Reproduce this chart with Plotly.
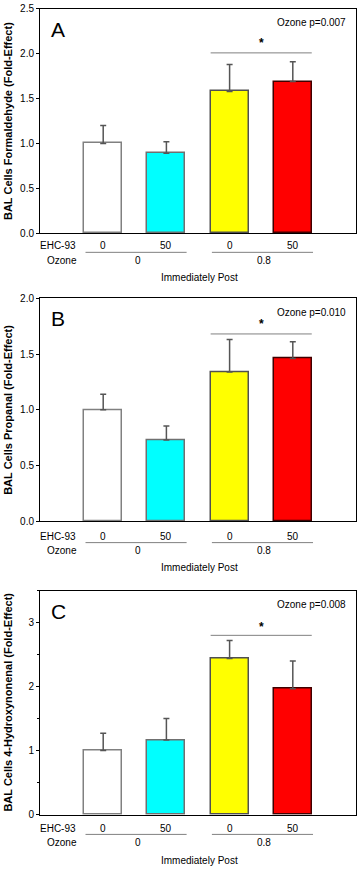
import plotly.graph_objects as go

W, H = 357, 871

# ---- data ----
ehc93_labels = ["0", "50", "0", "50"]
ozone_labels = ["0", "0.8"]
bar_colors = ["#ffffff", "#00ffff", "#ffff00", "#ff0000"]

formaldehyde_mean = [1.00, 0.89, 1.58, 1.69]
formaldehyde_err = [0.20, 0.13, 0.30, 0.22]
propanal_mean = [1.00, 0.73, 1.34, 1.46]
propanal_err = [0.14, 0.125, 0.29, 0.15]
hne_mean = [1.00, 1.165, 2.44, 1.965]
hne_err = [0.27, 0.335, 0.28, 0.435]

panel_letters = ["A", "B", "C"]
pvalue_texts = ["Ozone p=0.007", "Ozone p=0.010", "Ozone p=0.008"]
ytitles = ["BAL Cells Formaldehyde (Fold-Effect)",
           "BAL Cells Propanal (Fold-Effect)",
           "BAL Cells 4-Hydroxynonenal (Fold-Effect)"]
yranges = [[0, 2.5], [0, 2.0], [0, 3.5]]
ydticks = [0.5, 0.5, 1.0]
ytickfmt = [".1f", ".1f", "d"]
sig_levels = [2.01, 1.68, 2.80]
star_levels = [2.12, 1.77, 2.93]

# ---- layout geometry (pixels) ----
panels_px = [(4, 231), (297, 523), (593, 820)]  # top, bottom
x_left_px, x_right_px = 40, 356
label_offsets = [(12.5, 19.5, 27.5, 44.5), (15, 21.5, 29, 46.5), (14, 20, 28, 46)]

def py(p):
    return 1 - p / H

def px(p):
    return p / W

FONT = "Liberation Sans, Arial, sans-serif"
xpos = [i + 1 for i in range(len(ehc93_labels))]
line_colors = ["#808080", "#707070", "#505050", "#400000"]

fig = go.Figure()
means = [formaldehyde_mean, propanal_mean, hne_mean]
errs = [formaldehyde_err, propanal_err, hne_err]

def ann(**kw):
    d = dict(showarrow=False, xanchor="center", yanchor="middle",
             font=dict(family=FONT, size=10, color="#000"))
    d.update(kw)
    return d

annotations = []
shapes = []
for i in range(3):
    sfx = "" if i == 0 else str(i + 1)
    xa, ya = "x" + sfx, "y" + sfx
    fig.add_trace(go.Bar(
        x=xpos, y=means[i], width=0.6,
        marker=dict(color=bar_colors, line=dict(color=line_colors, width=1.5)),
        error_y=dict(type="data", array=errs[i], arrayminus=[0] * 4, symmetric=False,
                     color="#555555", thickness=1.5, width=3),
        xaxis=xa, yaxis=ya, showlegend=False, hoverinfo="skip"))
    top, bot = panels_px[i]
    fig.layout["xaxis" + sfx] = dict(
        domain=[px(x_left_px), px(x_right_px)], range=[0, 5], anchor=ya,
        showticklabels=False, ticks="", showgrid=False, zeroline=False,
        showline=True, mirror=True, linecolor="#000", linewidth=1)
    yax = dict(
        domain=[py(bot), py(top)], range=yranges[i], anchor=xa,
        dtick=ydticks[i], tickformat=ytickfmt[i], ticks="outside", ticklen=3,
        tickcolor="#000", showgrid=False, zeroline=False,
        showline=True, mirror=True, linecolor="#000", linewidth=1,
        tickfont=dict(family=FONT, size=10, color="#000"))
    if i == 2:
        yax["minor"] = dict(dtick=0.5, ticks="outside", ticklen=2, tickcolor="#000")
    fig.layout["yaxis" + sfx] = yax

    # axis title
    annotations.append(ann(text="<b>" + ytitles[i] + "</b>", textangle=-90,
                           x=px(8), y=py((top + bot) / 2), xref="paper", yref="paper",
                           font=dict(family=FONT, size=11, color="#000")))
    # panel letter
    annotations.append(ann(text=panel_letters[i], x=px(49), y=py(top + 21),
                           xref="paper", yref="paper", xanchor="left",
                           font=dict(family=FONT, size=21, color="#000")))
    # p value
    annotations.append(ann(text=pvalue_texts[i], x=px(348), y=py(top + 14),
                           xref="paper", yref="paper", xanchor="right"))
    # significance line and star
    shapes.append(dict(type="line", xref=xa, yref=ya, x0=2.7, x1=4.3,
                       y0=sig_levels[i], y1=sig_levels[i],
                       line=dict(color="#808080", width=1)))
    annotations.append(ann(text="<b>*</b>", x=3.5, y=star_levels[i], xref=xa, yref=ya,
                           font=dict(family=FONT, size=12, color="#000")))
    # bottom labels
    o1, o2, o3, o4 = label_offsets[i]
    annotations.append(ann(text="EHC-93", x=px(58), y=py(bot + o1), xref="paper", yref="paper"))
    for xv, lab in zip(xpos, ehc93_labels):
        annotations.append(ann(text=lab, x=xv, y=py(bot + o1), xref=xa, yref="paper"))
    for g in range(2):
        x0 = 0.72 + 2 * g
        shapes.append(dict(type="line", xref=xa, yref="paper", x0=x0, x1=x0 + 1.6,
                           y0=py(bot + o2), y1=py(bot + o2),
                           line=dict(color="#808080", width=1)))
    annotations.append(ann(text="Ozone", x=px(62), y=py(bot + o3), xref="paper", yref="paper"))
    for g, lab in enumerate(ozone_labels):
        annotations.append(ann(text=lab, x=1.55 + 2 * g, y=py(bot + o3), xref=xa, yref="paper"))
    annotations.append(ann(text="Immediately Post", x=2.53, y=py(bot + o4), xref=xa, yref="paper"))

fig.update_layout(width=W, height=H, margin=dict(l=0, r=0, t=0, b=0),
                  paper_bgcolor="#fff", plot_bgcolor="#fff",
                  annotations=annotations, shapes=shapes, bargap=0,
                  font=dict(family=FONT, size=10, color="#000"))
fig.write_html("out.html", config={"displayModeBar": False},
               post_script="document.body.style.margin='0';document.body.style.overflow='hidden';")
